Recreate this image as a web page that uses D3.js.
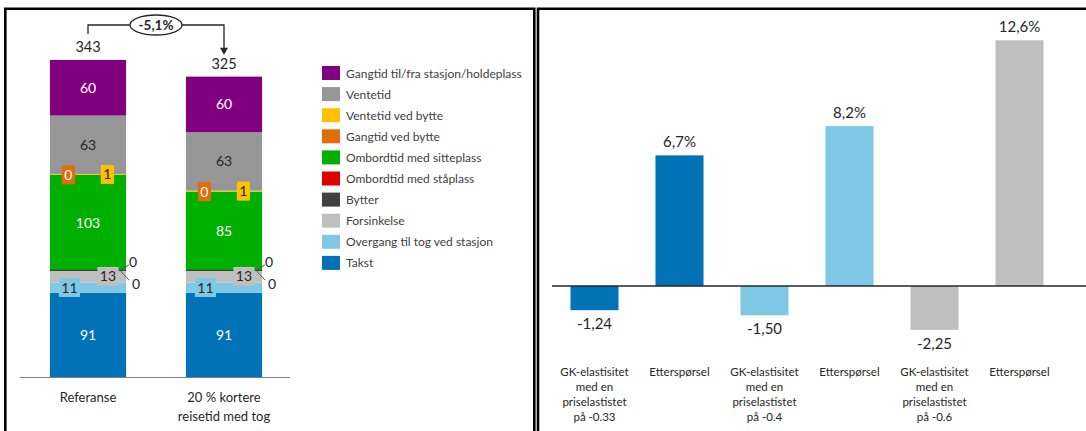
<!DOCTYPE html>
<html>
<head>
<meta charset="utf-8">
<script src="https://cdn.jsdelivr.net/npm/d3@7"></script>
<style>
  body { margin: 0; background: #fff; }
  svg { display: block; font-family: Lato, "Open Sans", sans-serif; }
</style>
</head>
<body>
<div id="chart"></div>
<script>
// Left chart: stacked components (bottom to top)
const seriesNames = [
  'Takst',
  'Overgang til tog ved stasjon',
  'Forsinkelse',
  'Bytter',
  'Ombordtid med ståplass',
  'Ombordtid med sitteplass',
  'Gangtid ved bytte',
  'Ventetid ved bytte',
  'Ventetid',
  'Gangtid til/fra stasjon/holdeplass'
];
const scenarios = ['Referanse', '20 % kortere\nreisetid med tog'];
const referanse = [91, 11, 13, 0, 0, 103, 0, 1, 63, 60];
const kortere = [91, 11, 13, 0, 0, 85, 0, 1, 63, 60];
const totals = [343, 325];
const changeLabel = '-5,1%';

// Right chart
const rightCategories = [
  'GK-elastisitet\nmed en\npriselastistet\npå -0.33',
  'Etterspørsel',
  'GK-elastisitet\nmed en\npriselastistet\npå -0.4',
  'Etterspørsel',
  'GK-elastisitet\nmed en\npriselastistet\npå -0.6',
  'Etterspørsel'
];
const rightValues = [-1.24, 6.7, -1.50, 8.2, -2.25, 12.6];

// colours
const seriesColors = ['#0072b5', '#7fc8e5', '#bfbfbf', '#404040', '#e00000',
  '#00b000', '#e36c0a', '#ffc000', '#969696', '#800080'];
const rightColors = ['#0072b5', '#0072b5', '#7fc8e5', '#7fc8e5', '#bfbfbf', '#bfbfbf'];
const textColor = '#262626';

const W = 1086, H = 431;
const svg = d3.select('#chart').append('svg')
  .attr('width', W).attr('height', H)
  .attr('viewBox', `0 0 ${W} ${H}`);

svg.append('rect').attr('width', W).attr('height', H).attr('fill', '#fff');

// panel frames
svg.append('path')
  .attr('d', 'M5.3,431 V8.7 H534.3 V431')
  .attr('fill', 'none').attr('stroke', '#000').attr('stroke-width', 2.6);
svg.append('path')
  .attr('d', 'M538,431 V8.7 H1086')
  .attr('fill', 'none').attr('stroke', '#000').attr('stroke-width', 2.6);

// ---------- left stacked chart ----------
const x = d3.scaleBand()
  .domain(scenarios)
  .range([20, 292])
  .paddingInner(0.44)
  .paddingOuter(0.22);

const y = d3.scaleLinear()
  .domain([0, d3.max(totals)])
  .range([377, 59]);

const color = d3.scaleOrdinal().domain(seriesNames).range(seriesColors);

const table = scenarios.map((s, i) => {
  const row = { scenario: s };
  const vals = i === 0 ? referanse : kortere;
  seriesNames.forEach((n, j) => row[n] = vals[j]);
  return row;
});

const stacked = d3.stack().keys(seriesNames)(table);

const left = svg.append('g');

// segments
stacked.forEach(layer => {
  left.selectAll(null)
    .data(layer.filter(d => d[1] > d[0]))
    .join('rect')
    .attr('x', d => x(d.data.scenario))
    .attr('width', x.bandwidth())
    .attr('y', d => y(d[1]))
    .attr('height', d => y(d[0]) - y(d[1]))
    .attr('fill', color(layer.key));
});
// the zero "Bytter" segment still shows as a hairline
stacked.filter(l => l.key === 'Bytter').forEach(layer => {
  left.selectAll(null)
    .data(layer.filter(d => d[1] === d[0]))
    .join('line')
    .attr('x1', d => x(d.data.scenario))
    .attr('x2', d => x(d.data.scenario) + x.bandwidth())
    .attr('y1', d => y(d[1])).attr('y2', d => y(d[1]))
    .attr('stroke', color(layer.key)).attr('stroke-width', 1.3);
});

// baseline
left.append('line')
  .attr('x1', 20).attr('x2', 290)
  .attr('y1', y(0) + 0.5).attr('y2', y(0) + 0.5)
  .attr('stroke', '#7f7f7f').attr('stroke-width', 1);

// segment labels
const inside = { 'Takst': '#fff', 'Ombordtid med sitteplass': '#fff',
  'Ventetid': textColor, 'Gangtid til/fra stasjon/holdeplass': '#fff' };
const boxed = { 'Overgang til tog ved stasjon': [19.5, textColor],
  'Forsinkelse': [58, textColor],
  'Gangtid ved bytte': [18.5, '#fff'],
  'Ventetid ved bytte': [57.5, textColor] };

stacked.forEach(layer => {
  const key = layer.key;
  layer.forEach(d => {
    const bx = x(d.data.scenario);
    const cy = (y(d[0]) + y(d[1])) / 2;
    const v = d[1] - d[0];
    if (inside[key]) {
      left.append('text')
        .attr('x', bx + x.bandwidth() / 2).attr('y', cy + 5)
        .attr('text-anchor', 'middle')
        .style('font-size', '14px').style('fill', inside[key])
        .text(v);
    } else if (boxed[key]) {
      const [off, tc] = boxed[key];
      const t = left.append('text')
        .attr('x', bx + off).attr('y', cy + 5)
        .attr('text-anchor', 'middle')
        .style('font-size', '14px').style('fill', tc)
        .text(v);
      const w = t.node().getComputedTextLength() + 5;
      left.insert('rect', () => t.node())
        .attr('x', bx + off - w / 2).attr('y', cy - 9.5)
        .attr('width', w).attr('height', 19)
        .attr('fill', color(key));
    }
  });
});

// outside zero labels with leader lines (ståplass above, bytter below)
scenarios.forEach((s, i) => {
  const bx = x(s) + x.bandwidth();
  const vals = i === 0 ? referanse : kortere;
  const yb = y(d3.sum(vals.slice(0, 3)));
  [[4, -8], [3, 14]].forEach(([k, dy]) => {
    left.append('line')
      .attr('x1', bx - 6).attr('y1', yb)
      .attr('x2', bx + 3).attr('y2', yb + dy * 0.7)
      .attr('stroke', '#595959').attr('stroke-width', 1);
    left.append('text')
      .attr('x', bx + (dy < 0 ? 3 : 6)).attr('y', yb + dy + 4.5)
      .style('font-size', '14px').style('fill', textColor)
      .text(vals[k]);
  });
});

// totals
scenarios.forEach((s, i) => {
  left.append('text')
    .attr('x', x(s) + x.bandwidth() / 2)
    .attr('y', y(totals[i]) - 7)
    .attr('text-anchor', 'middle')
    .style('font-size', '14.5px').style('fill', textColor)
    .text(totals[i]);
});

// change annotation
const c0 = x(scenarios[0]) + x.bandwidth() / 2;
const c1 = x(scenarios[1]) + x.bandwidth() / 2;
const ay = 25;
const ex = (c0 + c1) / 2;
left.append('path')
  .attr('d', `M${c0},${y(totals[0]) - 25} V${ay} H${ex - 26} M${ex + 26},${ay} H${c1} V${y(totals[1]) - 27}`)
  .attr('fill', 'none').attr('stroke', '#262626').attr('stroke-width', 1.3);
left.append('path')
  .attr('d', `M${c1 - 4},${y(totals[1]) - 28} L${c1 + 4},${y(totals[1]) - 28} L${c1},${y(totals[1]) - 21} Z`)
  .attr('fill', '#262626');
left.append('ellipse')
  .attr('cx', ex).attr('cy', ay).attr('rx', 26).attr('ry', 10)
  .attr('fill', '#fff').attr('stroke', '#262626').attr('stroke-width', 1.3);
left.append('text')
  .attr('x', ex).attr('y', ay + 5)
  .attr('text-anchor', 'middle')
  .style('font-size', '13.5px').style('font-weight', 'bold').style('fill', textColor)
  .text(changeLabel);

// category labels
scenarios.forEach(s => {
  s.split('\n').forEach((ln, k) => {
    left.append('text')
      .attr('x', x(s) + x.bandwidth() / 2)
      .attr('y', 402 + k * 19)
      .attr('text-anchor', 'middle')
      .style('font-size', '13px').style('fill', textColor)
      .text(ln);
  });
});

// legend
const legend = svg.append('g').attr('transform', 'translate(322,66)');
seriesNames.slice().reverse().forEach((n, i) => {
  const g = legend.append('g').attr('transform', `translate(0,${i * 21.1})`);
  g.append('rect').attr('width', 18).attr('height', 14).attr('fill', color(n));
  g.append('text').attr('x', 24).attr('y', 11.5)
    .style('font-size', '12px').style('fill', '#404040')
    .text(n);
});

// ---------- right bar chart ----------
const loc = d3.formatLocale({ decimal: ',', thousands: ' ', grouping: [3], currency: ['', ''], minus: '-' });
const idx = rightValues.map((d, i) => i);

const x2 = d3.scaleBand()
  .domain(idx)
  .range([552, 1062])
  .paddingInner(0.435)
  .paddingOuter(0.2175);

const y2 = d3.scaleLinear()
  .domain([-3, 13])
  .range([344.5, 32.5]);

const right = svg.append('g');

right.selectAll('rect')
  .data(rightValues)
  .join('rect')
  .attr('x', (d, i) => x2(i))
  .attr('width', x2.bandwidth())
  .attr('y', d => y2(Math.max(0, d)))
  .attr('height', d => Math.abs(y2(d) - y2(0)))
  .attr('fill', (d, i) => rightColors[i]);

right.append('line')
  .attr('x1', 552).attr('x2', W)
  .attr('y1', y2(0)).attr('y2', y2(0))
  .attr('stroke', '#262626').attr('stroke-width', 1.3);

right.selectAll('text.val')
  .data(rightValues)
  .join('text')
  .attr('class', 'val')
  .attr('x', (d, i) => x2(i) + x2.bandwidth() / 2)
  .attr('y', d => d >= 0 ? y2(d) - 8 : y2(d) + 19)
  .attr('text-anchor', 'middle')
  .style('font-size', '15px').style('fill', textColor)
  .text(d => d >= 0 ? loc.format('.1f')(d) + '%' : loc.format('.2f')(d));

rightCategories.forEach((c, i) => {
  c.split('\n').forEach((ln, k) => {
    right.append('text')
      .attr('x', x2(i) + x2.bandwidth() / 2)
      .attr('y', 376 + k * 15)
      .attr('text-anchor', 'middle')
      .style('font-size', '11.5px').style('fill', textColor)
      .text(ln);
  });
});
</script>
</body>
</html>
